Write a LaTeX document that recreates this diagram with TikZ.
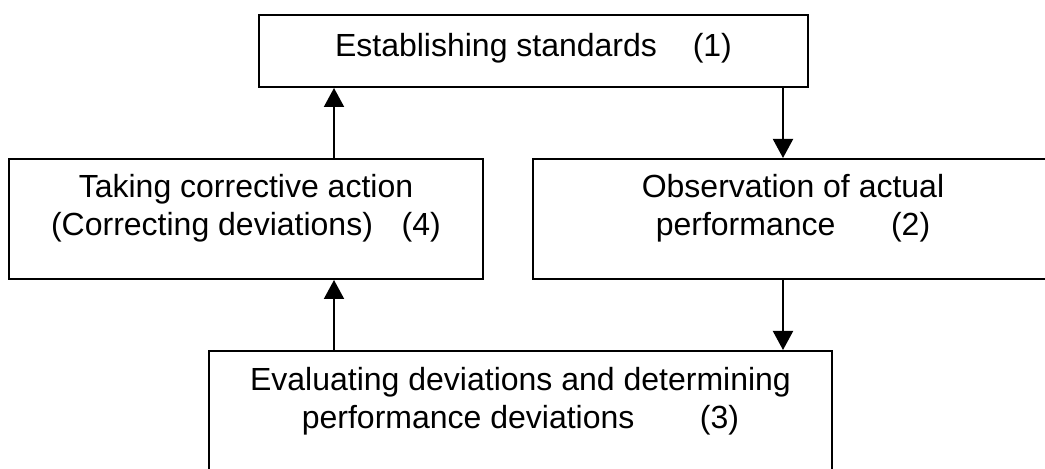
\documentclass[tikz,border=0pt]{standalone}
\usepackage{fontspec}
\setmainfont{Liberation Sans}
\usetikzlibrary{arrows.meta}
\begin{document}
\begin{tikzpicture}[x=0.5pt, y=-0.5pt,
  box/.style={draw, line width=1pt, rectangle, inner sep=0pt},
  txt/.style={inner sep=0pt, anchor=base, font=\fontsize{16}{19}\selectfont},
  arr/.style={line width=1pt, -{Triangle[width=10pt, length=9.5pt]}}]
\useasboundingbox (0,0) rectangle (1045,469);
\clip (0,0) rectangle (1045,469);
% boxes
\node[box, minimum width=274.5pt, minimum height=36pt] (b1) at (533.5,51) {};
\node[box, minimum width=237pt, minimum height=60pt] (b4) at (246,219) {};
\node[box, minimum width=260pt, minimum height=60pt] (b2) at (793,219) {};
\node[box, minimum width=311.5pt, minimum height=60pt] (b3) at (520.5,411) {};
% texts
\node[txt] (t1) at (533.5,57) {Establishing standards\hspace{1.12em}(1)};
\node[txt] (t4a) at (246,198) {Taking corrective action};
\node[txt] (t4b) at (246,236) {(Correcting deviations)\hspace{0.9em}(4)};
\node[txt] (t2a) at (793,198) {Observation of actual};
\node[txt] (t2b) at (793,236) {performance\hspace{1.74em}(2)};
\node[txt] (t3a) at (520.5,391) {Evaluating deviations and determining};
\node[txt] (t3b) at (520.5,429) {performance deviations\hspace{2.05em}(3)};
% connectors
\coordinate (xl) at (334,0);
\coordinate (xr) at (783,0);
\draw[arr] (b3.north -| xl) -- (b4.south -| xl);
\draw[arr] (b4.north -| xl) -- (b1.south -| xl);
\draw[arr] (b1.south -| xr) -- (b2.north -| xr);
\draw[arr] (b2.south -| xr) -- (b3.north -| xr);
\end{tikzpicture}
\end{document}
